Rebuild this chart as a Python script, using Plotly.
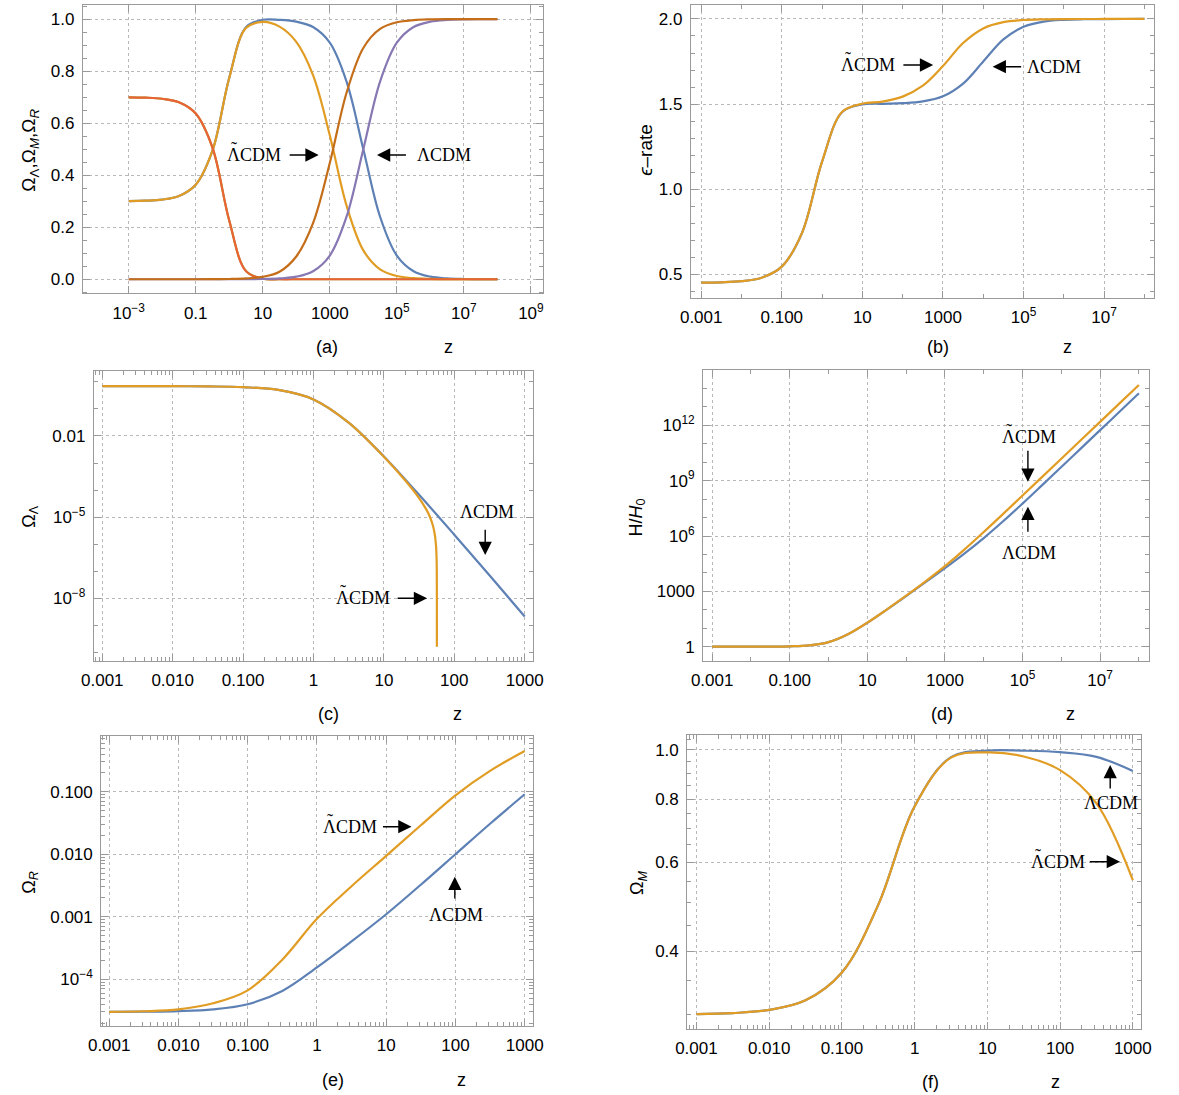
import plotly.graph_objects as go

OFF = 0
W, H = 1179, 1095

# ---------------- data ----------------
Z = [1e-3, 3.16e-3, 1e-2, 3.16e-2, 0.1, 0.316, 1, 3.16, 10, 31.6, 100, 316, 1e3,
     3.16e3, 1e4, 3.16e4, 1e5, 3.16e5, 1e6, 3.16e6, 1e7, 3.16e7, 1e8]
N_LOW = 13  # panels (c), (e), (f) stop at z = 1000

OM_LCDM = [0.30062, 0.30198, 0.30630, 0.31997, 0.36322, 0.49422, 0.77407, 0.96826,
           0.99716, 0.99668, 0.99000, 0.96925, 0.90901, 0.75969, 0.49998, 0.24025,
           0.0909, 0.030654, 0.0099, 0.003152, 0.000999, 0.000316, 0.0001]
OM_TILDE = [0.30062, 0.30198, 0.30630, 0.31997, 0.36321, 0.49415, 0.77347, 0.96567,
            0.98884, 0.97093, 0.91245, 0.78437, 0.55326, 0.28323, 0.1111, 0.03803,
            0.012346, 0.003937, 0.001248, 0.000395, 0.000125, 0.0000395, 0.0000125]
OR_LCDM = [3.01e-5, 3.03e-5, 3.09e-5, 3.30e-5, 3.99e-5, 6.5e-5, 1.548e-4, 4.03e-4,
           1.0969e-3, 3.251e-3, 9.999e-3, 0.030746, 0.09099, 0.24031, 0.50002, 0.75975,
           0.9091, 0.96935, 0.9901, 0.99685, 0.999, 0.99968, 0.9999]
OR_TILDE = [3.01e-5, 3.08e-5, 3.30e-5, 4.13e-5, 6.66e-5, 2.06e-4, 9.28e-4, 3.081e-3,
            9.427e-3, 0.029033, 0.08755, 0.21563, 0.44674, 0.71677, 0.8889, 0.96197,
            0.98765, 0.99606, 0.99875, 0.9996, 0.99987, 0.99996, 0.99999]
OL_LCDM = [0.69935, 0.69799, 0.69367, 0.68001, 0.63674, 0.50572, 0.22577, 0.031335,
           1.748e-3, 6.70e-5, 2.242e-6, 7.086e-8, 2.115e-9, 5.6e-11, 1.17e-12, 1.8e-14,
           2.1e-16, 2.3e-18, 2.3e-20, 2.3e-22, 2.3e-24, 2.3e-26, 2.3e-28]
OL_TILDE_A = [0.69935, 0.69799, 0.69367, 0.68001, 0.63674, 0.50564, 0.22560, 0.03125,
              1.711e-3, 5.07e-5, 0, 0, 0, 0, 0, 0, 0, 0, 0, 0, 0, 0, 0]
Z_OL_TILDE = [1e-3, 3.16e-3, 1e-2, 3.16e-2, 0.1, 0.316, 1, 3.16, 10, 20, 31.6, 40, 45,
              50, 53, 55, 56, 56.4, 56.55, 56.59, 56.599, 56.5997]
OL_TILDE = [0.69935, 0.69799, 0.69367, 0.68001, 0.63674, 0.50564, 0.22560, 0.03125,
            1.711e-3, 2.301e-4, 5.07e-5, 1.935e-5, 1.031e-5, 4.625e-6, 2.216e-6,
            9.07e-7, 3.27e-7, 1.073e-7, 2.67e-8, 5.34e-9, 5.3e-10, 1.6e-10]
EPS_LCDM = [0.4510, 0.4530, 0.4595, 0.4800, 0.5449, 0.7415, 1.1614, 1.4532, 1.4979,
            1.5015, 1.5050, 1.5154, 1.5455, 1.6202, 1.7500, 1.8799, 1.9545, 1.98467,
            1.99505, 1.99842, 1.9995, 1.99984, 1.99995]
EPS_TILDE = [0.4510, 0.4530, 0.4595, 0.48004, 0.54495, 0.74164, 1.16206, 1.45467,
             1.50211, 1.51447, 1.54378, 1.60782, 1.72337, 1.85839, 1.94445, 1.98099,
             1.99383, 1.99803, 1.99938, 1.9998, 1.99994, 1.99998, 1.99999]
H_LCDM = [1.00047, 1.00144, 1.00455, 1.01460, 1.04850, 1.17651, 1.76082, 4.7264,
          20.011, 102.21, 558.76, 3143.0, 18194, 1.1180e5, 7.7473e5, 6.2842e6,
          5.7446e7, 5.5632e8, 5.5045e9, 5.4859e10, 5.4800e11, 5.4781e12, 5.4774e13]
H_TILDE = [1.00047, 1.00144, 1.00455, 1.01459, 1.04851, 1.17660, 1.76150, 4.7327,
           20.095, 103.56, 582.02, 3493.9, 23321, 1.8310e5, 1.6435e6, 1.5796e7,
           1.5588e8, 1.5523e9, 1.5502e10, 1.5495e11, 1.5493e12, 1.5492e13, 1.5492e14]

# tick labels
XT_A = [1e-3, 0.1, 10, 1e3, 1e5, 1e7, 1e9]
XT_A_TXT = ["10<sup>−3</sup>", "0.1", "10", "1000", "10<sup>5</sup>", "10<sup>7</sup>", "10<sup>9</sup>"]
XT_B = [1e-3, 0.1, 10, 1e3, 1e5, 1e7]
XT_B_TXT = ["0.001", "0.100", "10", "1000", "10<sup>5</sup>", "10<sup>7</sup>"]
XT_C = [1e-3, 1e-2, 0.1, 1, 10, 100, 1000]
XT_C_TXT = ["0.001", "0.010", "0.100", "1", "10", "100", "1000"]
YT_A = [0, 0.2, 0.4, 0.6, 0.8, 1.0]
YT_A_TXT = ["0.0", "0.2", "0.4", "0.6", "0.8", "1.0"]
YT_B = [0.5, 1.0, 1.5, 2.0]
YT_B_TXT = ["0.5", "1.0", "1.5", "2.0"]
YT_C = [1e-8, 1e-5, 1e-2]
YT_C_TXT = ["10<sup>−8</sup>", "10<sup>−5</sup>", "0.01"]
YT_D = [1, 1e3, 1e6, 1e9, 1e12]
YT_D_TXT = ["1", "1000", "10<sup>6</sup>", "10<sup>9</sup>", "10<sup>12</sup>"]
YT_E = [1e-4, 1e-3, 1e-2, 0.1]
YT_E_TXT = ["10<sup>−4</sup>", "0.001", "0.010", "0.100"]
YT_F = [0.4, 0.6, 0.8, 1.0]
YT_F_TXT = ["0.4", "0.6", "0.8", "1.0"]

# ---------------- style ----------------
BLUE = "#5E81B5"
ORANGE = "#E19C24"
GREEN = "#8FB032"
RED = "#EB6235"
PURPLE = "#8778B3"
DKORANGE = "#C56E1A"
FRAME = "#9a9a9a"
GRID = "#b8b8b8"
SANS = "Liberation Sans, Arial, sans-serif"
SERIF = "Liberation Serif, Times New Roman, serif"
LW = 2.2


def subdecades(lo, hi):
    out = []
    for k in range(lo, hi + 1):
        for m in range(2, 10):
            out.append(m * 10.0 ** k)
    return out


def dom_x(x0, x1):
    return [(x0 - OFF) / W, (x1 - OFF) / W]


def dom_y(top, bottom):
    return [1 - (bottom - OFF) / H, 1 - (top - OFF) / H]


def axis(domain, anchor, rng, typ, tickvals, ticktext, minor_vals):
    return dict(
        domain=domain, anchor=anchor, range=rng, type=typ,
        tickmode="array", tickvals=tickvals, ticktext=ticktext,
        showline=True, linecolor=FRAME, linewidth=1, mirror="ticks",
        ticks="inside", ticklen=7, tickwidth=1, tickcolor=FRAME,
        showgrid=True, gridcolor=GRID, griddash="dot", gridwidth=1,
        zeroline=False, ticklabelstandoff=4,
        tickfont=dict(family=SANS, size=17, color="black"),
        minor=dict(tickmode="array", tickvals=minor_vals, ticks="inside",
                   ticklen=4, tickcolor=FRAME, tickwidth=1, showgrid=False),
    )


fig = go.Figure()


def line(x, y, color, xa, ya):
    fig.add_trace(go.Scatter(x=x, y=y, mode="lines", xaxis=xa, yaxis=ya,
                             line=dict(color=color, width=LW, shape="spline", smoothing=1.0),
                             showlegend=False, hoverinfo="skip"))


# (a)
line(Z, OM_LCDM, BLUE, "x", "y")
line(Z, OM_TILDE, ORANGE, "x", "y")
line(Z, OL_LCDM, GREEN, "x", "y")
line(Z, OL_TILDE_A, RED, "x", "y")
line(Z, OR_LCDM, PURPLE, "x", "y")
line(Z, OR_TILDE, DKORANGE, "x", "y")
# (b)
line(Z, EPS_LCDM, BLUE, "x2", "y2")
line(Z, EPS_TILDE, ORANGE, "x2", "y2")
# (c)
line(Z[:N_LOW], OL_LCDM[:N_LOW], BLUE, "x3", "y3")
line(Z_OL_TILDE, OL_TILDE, ORANGE, "x3", "y3")
# (d)
line(Z, H_LCDM, BLUE, "x4", "y4")
line(Z, H_TILDE, ORANGE, "x4", "y4")
# (e)
line(Z[:N_LOW], OR_LCDM[:N_LOW], BLUE, "x5", "y5")
line(Z[:N_LOW], OR_TILDE[:N_LOW], ORANGE, "x5", "y5")
# (f)
line(Z[:N_LOW], OM_LCDM[:N_LOW], BLUE, "x6", "y6")
line(Z[:N_LOW], OM_TILDE[:N_LOW], ORANGE, "x6", "y6")

lin_minor_a = [round(0.05 * k, 2) for k in range(-1, 22) if k % 4 != 0]
lin_minor_b = [round(0.1 * k, 1) for k in range(3, 22) if k % 5 != 0]
f_minor = [0.3, 0.35, 0.45, 0.5, 0.55, 0.65, 0.7, 0.75, 0.85, 0.9, 0.95, 1.05]

layout = dict(
    width=W, height=H, margin=dict(l=0, r=0, t=0, b=0), autosize=False,
    paper_bgcolor="white", plot_bgcolor="white", showlegend=False,
    xaxis=axis(dom_x(71.2, 541.0), "y", [-4.37, 9.36], "log", XT_A, XT_A_TXT,
               [10.0 ** k for k in range(-5, 10, 2)]),
    yaxis=axis(dom_y(5, 293.3), "x", [-0.054, 1.054], "linear", YT_A, YT_A_TXT, lin_minor_a),
    xaxis2=axis(dom_x(692, 1164.4), "y2", [-3.255, 8.23], "log", XT_B, XT_B_TXT,
                [10.0 ** k for k in range(-4, 9, 2)]),
    yaxis2=axis(dom_y(5, 297.7), "x2", [0.3625, 2.082], "linear", YT_B, YT_B_TXT, lin_minor_b),
    xaxis3=axis(dom_x(82.5, 531.3), "y3", [-3.12, 3.125], "log", XT_C, XT_C_TXT, subdecades(-4, 3)),
    yaxis3=axis(dom_y(371, 661), "x3", [-10.32, 0.403], "log", YT_C, YT_C_TXT,
                [10.0 ** k for k in range(-11, 1) if k not in (-8, -5, -2)]),
    xaxis4=axis(dom_x(704.4, 1159.2), "y4", [-3.235, 8.25], "log", XT_B, XT_B_TXT,
                [10.0 ** k for k in range(-4, 9, 2)]),
    yaxis4=axis(dom_y(370, 661), "x4", [-0.775, 15.0], "log", YT_D, YT_D_TXT,
                [10.0 ** k for k in range(-1, 16) if k % 3 != 0]),
    xaxis5=axis(dom_x(90, 530.6), "y5", [-3.116, 3.117], "log", XT_C, XT_C_TXT, subdecades(-4, 3)),
    yaxis5=axis(dom_y(736, 1026), "x5", [-4.747, -0.109], "log", YT_E, YT_E_TXT, subdecades(-5, -1)),
    xaxis6=axis(dom_x(688.2, 1151.7), "y6", [-3.127, 3.116], "log", XT_C, XT_C_TXT, subdecades(-4, 3)),
    yaxis6=axis(dom_y(735, 1029), "x6", [-0.5515, 0.0296], "log", YT_F, YT_F_TXT, f_minor),
)
fig.update_layout(**layout)

ann = []


def px(x):
    return (x - OFF) / W


def py(y):
    return 1 - (y - OFF) / H


def text(x, y, s, font=SANS, size=17, angle=0):
    ann.append(dict(x=px(x), y=py(y), xref="paper", yref="paper", text=s,
                    showarrow=False, xanchor="center", yanchor="middle", textangle=angle,
                    font=dict(family=font, size=size, color="black")))


def arrow(tail, tip):
    ann.append(dict(x=px(tip[0]), y=py(tip[1]), xref="paper", yref="paper", text="",
                    showarrow=True, axref="pixel", ayref="pixel",
                    ax=tail[0] - tip[0], ay=tail[1] - tip[1],
                    arrowhead=2, arrowsize=1.9, arrowwidth=1.4, arrowcolor="black",
                    standoff=0, startstandoff=0))


LC = "\u039bCDM"


def model(x, y, tilde):
    text(x, y, LC, SERIF, 18)
    if tilde:
        text(x - 20.5, y - 6, "\u02dc", SERIF, 18)


# axis titles
text(17, 150, "Ω<sub>Λ</sub>,Ω<sub><i>M</i></sub>,Ω<sub><i>R</i></sub>", size=19, angle=-90)
text(645, 150, "<i>ϵ</i>–rate", size=19, angle=-90)
text(17, 517, "Ω<sub>Λ</sub>", size=18, angle=-90)
text(636.5, 518, "H/<i>H</i><sub>0</sub>", size=18, angle=-90)
text(17, 882, "Ω<sub><i>R</i></sub>", size=18, angle=-90)
text(638, 883, "Ω<sub><i>M</i></sub>", size=18, angle=-90)

for lab, zx, lx, yy in [("(a)", 444.3, 320.6, 346.7), ("(b)", 1076.3, 944.3, 346.7),
                        ("(c)", 453.7, 322.5, 714.3), ("(d)", 1079.3, 948.1, 714.3),
                        ("(e)", 457.4, 326.2, 1080), ("(f)", 1064.3, 936.8, 1081.7)]:
    text(lx, yy, lab, size=18)
    text(zx, yy, "z", size=18)

# model labels with arrows
model(246.5, 155, True)
arrow((281.5, 155), (312, 155))
model(439.5, 155, False)
arrow((402, 155), (371.5, 155))

model(873, 65, True)
arrow((908, 65), (939.3, 65))
model(1063, 66.7, False)
arrow((1030, 66.7), (1000, 66.7))

model(484, 511.7, False)
arrow((482, 528.3), (482, 555))
model(357, 598.3, True)
arrow((391.7, 598.3), (422.7, 598.3))

model(1037, 436.7, True)
arrow((1036, 449.3), (1036, 481.7))
model(1037, 552.7, False)
arrow((1036, 533.3), (1036, 506.7))

model(344.5, 826.7, True)
arrow((376.8, 826.7), (406.8, 826.7))
model(451.8, 915, False)
arrow((451, 900), (451, 876.7))

model(1120.5, 803.3, False)
arrow((1120, 790), (1120, 765))
model(1066.7, 861.7, True)
arrow((1098.3, 861.7), (1130, 861.7))

fig.update_layout(annotations=ann)
fig.write_html("out.html", config={"displayModeBar": False},
               post_script="document.body.style.margin='0';document.body.style.overflow='hidden';")
